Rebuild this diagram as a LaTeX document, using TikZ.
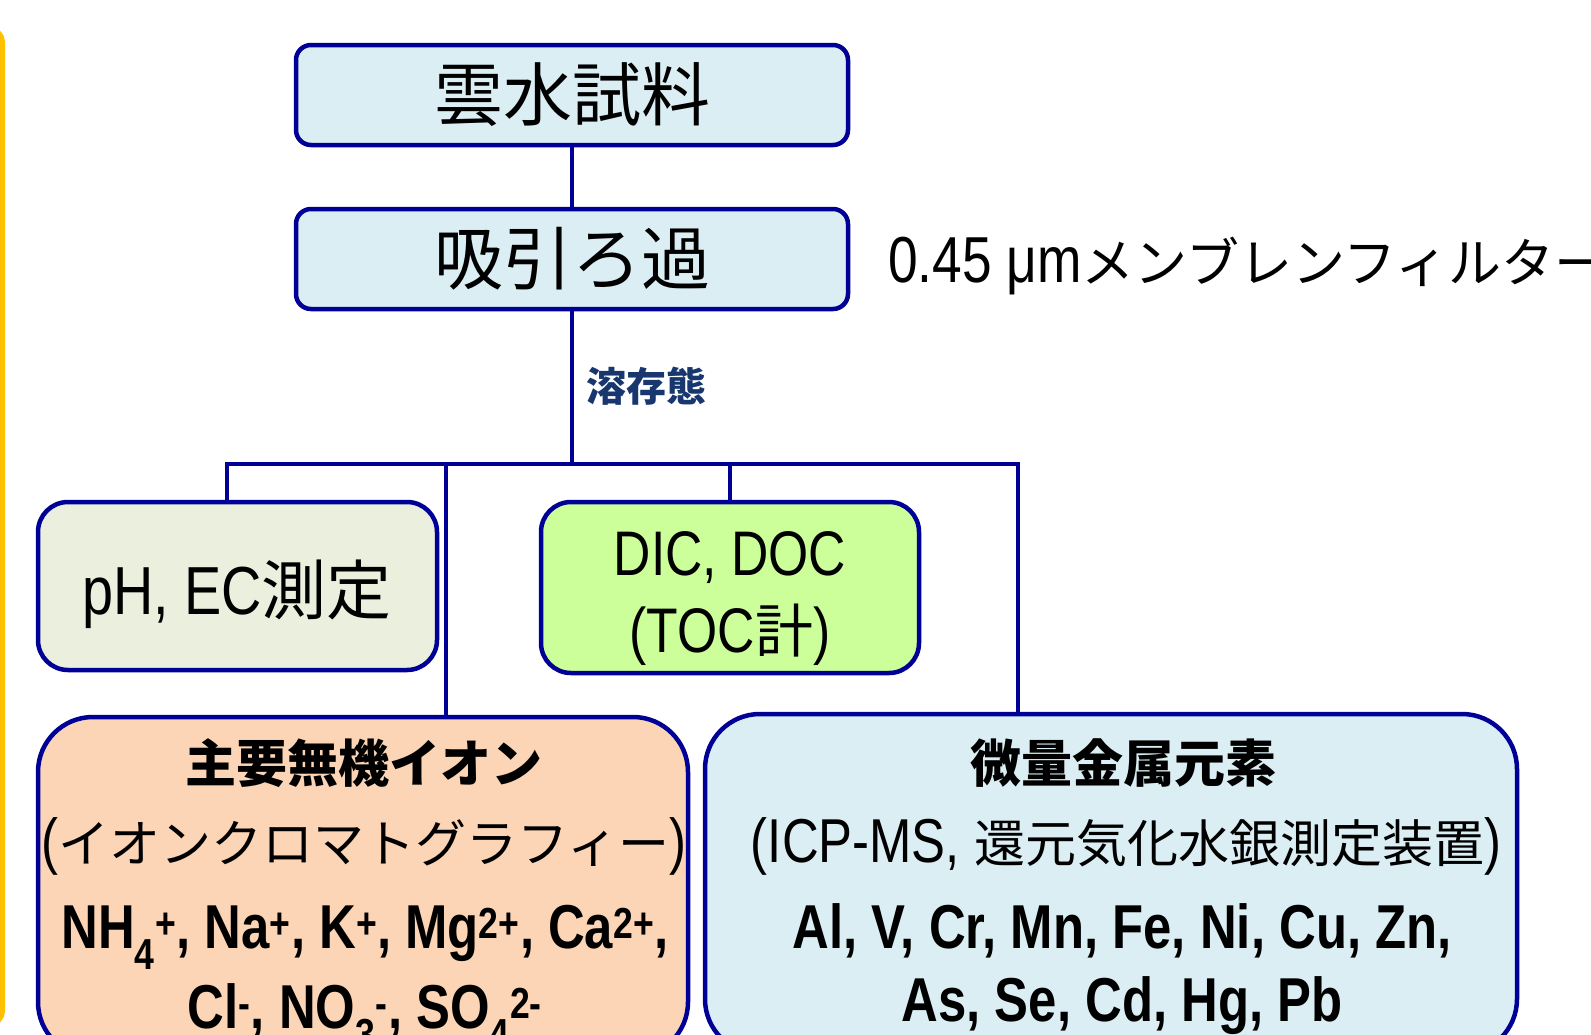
\documentclass[tikz,border=0pt]{standalone}
\usepackage{fontspec}
\setmainfont{Liberation Sans}
\newfontfamily\lat[FakeStretch=0.82]{Liberation Sans}
\newfontfamily\jp{Noto Sans CJK JP}
\newcommand\fs[1]{\fontsize{#1}{#1}\selectfont}
\newcommand\up[1]{\textsuperscript{#1}}
\newcommand\dn[1]{\textsubscript{#1}}
\definecolor{bord}{RGB}{0,0,150}
\definecolor{lblue}{RGB}{219,238,244}
\definecolor{phg}{RGB}{235,240,222}
\definecolor{dicg}{RGB}{204,255,153}
\definecolor{peach}{RGB}{251,213,181}
\definecolor{yel}{RGB}{255,192,0}
\definecolor{navy}{RGB}{23,55,110}
\tikzset{
  box/.style={draw=bord, line width=4.5pt, rounded corners=#1, inner sep=0pt},
  conn/.style={draw=bord, line width=4pt},
  lbl/.style={inner sep=0pt, text=black},
}
\begin{document}
\begin{tikzpicture}[x=1pt,y=-1pt]
\useasboundingbox (0,0) rectangle (1591,1034);
\begin{scope}
\clip (0,0) rectangle (1591,1034);
\fill[white] (0,0) rectangle (1591,1034);
% yellow frame edge
\draw[yel, line width=6pt, rounded corners=12pt] (-40,30) rectangle (2,1023);

% top boxes
\node[box=15pt, fill=lblue, minimum width=552pt, minimum height=100pt, font=\jp\fs{69}] (sample) at (572,95) {雲水試料};
\node[box=15pt, fill=lblue, minimum width=552pt, minimum height=100pt, font=\jp\fs{69}] (filt) at (572,259) {吸引ろ過};
\node[lbl, anchor=base west, font=\lat\fs{65}] (mem) at (888,282) {0.45 μm{\jp\fs{53}メンブレンフィルター}};

% middle boxes
\node[box=30pt, fill=phg, minimum width=399pt, minimum height=168pt] (ph) at (237.5,586) {};
\node[lbl, anchor=base, font=\lat\fs{68}] (phl) at (237,614) {pH, EC{\jp\fs{65}測定}};
\node[box=30pt, fill=dicg, minimum width=378pt, minimum height=171pt] (dic) at (730,587.5) {};
\node[lbl, anchor=base, font=\lat\fs{63}] (dic1) at (730,575) {DIC, DOC};
\node[lbl, anchor=base, font=\lat\fs{63}] (dic2) at (730,652) {(TOC{\jp\fs{58}計})};

% bottom boxes
\node[box=55pt, fill=peach, minimum width=650pt, minimum height=340pt] (ions) at (363,887) {};
\node[lbl, anchor=base, font=\jp\bfseries\fs{51}] (ions1) at (364,782) {主要無機イオン};
\node[lbl, anchor=base, font=\lat\fs{62}] (ions2) at (364,862) {({\jp\fs{51}イオンクロマトグラフィー})};
\node[lbl, anchor=base, font=\lat\bfseries\fs{62}] (ions3) at (365,948) {NH\dn{4}\up{+}, Na\up{+}, K\up{+}, Mg\up{2+}, Ca\up{2+},};
\node[lbl, anchor=base, font=\lat\bfseries\fs{62}] (ions4) at (365,1028) {Cl\up{-}, NO\dn{3}\up{-}, SO\dn{4}\up{2-}};

\node[box=55pt, fill=lblue, minimum width=812pt, minimum height=340pt] (met) at (1111,884) {};
\node[lbl, anchor=base, font=\jp\bfseries\fs{51}] (met1) at (1123,782) {微量金属元素};
\node[lbl, anchor=base, font=\lat\fs{62}] (met2) at (1126,862) {(ICP-MS, {\jp\fs{51}還元気化水銀測定装置})};
\node[lbl, anchor=base, font=\lat\bfseries\fs{62}] (met3) at (1122,948) {Al, V, Cr, Mn, Fe, Ni, Cu, Zn,};
\node[lbl, anchor=base, font=\lat\bfseries\fs{62}] (met4) at (1122,1021) {As, Se, Cd, Hg, Pb};

% connectors
\coordinate (bL) at (227,464);
\coordinate (bI) at (446,464);
\coordinate (bD) at (730,464);
\coordinate (bR) at (1018,464);
\draw[conn] (sample.south) -- (filt.north);
\draw[conn] (filt.south) -- (filt.south |- bL);
\draw[conn] (ph.north -| bL) -- (bL) -- (bR) -- (met.north -| bR);
\draw[conn] (bI) -- (ions.north -| bI);
\draw[conn] (bD) -- (dic.north);
\node[lbl, anchor=west, text=navy, font=\jp\bfseries\fs{40}] (diss) at (586,386) {溶存態};
\end{scope}
\end{tikzpicture}
\end{document}
